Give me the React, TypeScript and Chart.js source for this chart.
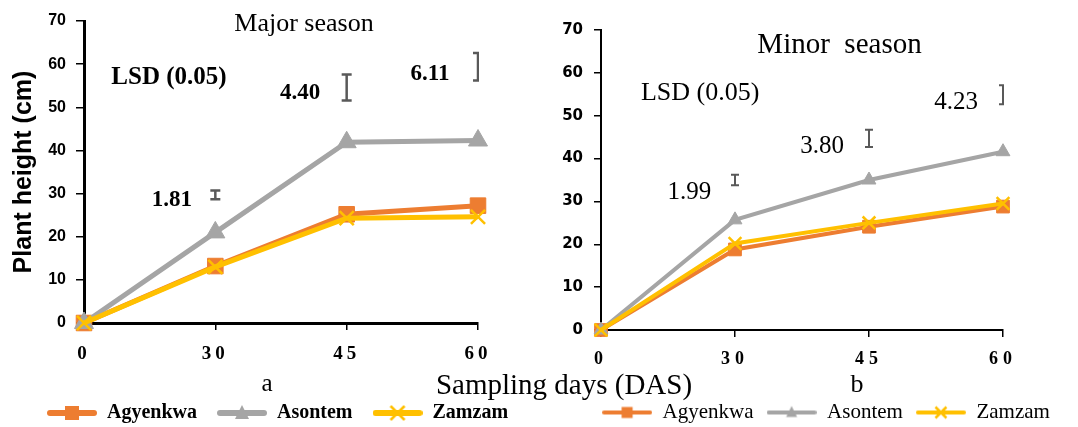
import React, { useEffect, useRef } from 'react';
import { Chart, registerables } from 'chart.js';
Chart.register(...registerables);

// ---------- data ----------
const days = ['0', '30', '45', '60'];
const varieties = ['Agyenkwa', 'Asontem', 'Zamzam'];
const seriesColors = ['#ED7D31', '#A5A5A5', '#FFC000'];

const majorAgyenkwa = [0, 13.2, 25.2, 27.2];
const majorAsontem = [0, 21.0, 41.9, 42.3];
const majorZamzam = [0, 13.0, 24.3, 24.6];

const minorAgyenkwa = [0, 18.8, 24.1, 28.8];
const minorAsontem = [0, 25.7, 35.0, 41.6];
const minorZamzam = [0, 20.2, 25.0, 29.5];

const majorLsdLabels = ['1.81', '4.40', '6.11'];
const majorLsdCenter = [29.7, 54.6, 59.4];
const majorLsdHalf = [1.0, 3.0, 3.2];

const minorLsdLabels = ['1.99', '3.80', '4.23'];
const minorLsdCenter = [35.0, 44.7, 54.9];
const minorLsdHalf = [1.2, 2.0, 2.2];

const yMin = 0;
const yMax = 70;
const yStep = 10;

// ---------- config ----------
type Note = { text: string; x: number; y: number; size: number; weight: string; family: string };

type PanelCfg = {
  left: number;
  width: number;
  height: number;
  series: number[][];
  lsdLabels: string[];
  lsdCenter: number[];
  lsdHalf: number[];
  notes: Note[];
  padTop: number;
  padLeft: number;
  padRight: number;
  padBottom: number;
  yAxisWidth: number;
  rightWidth: number;
  xAxisHeight: number;
  lineWidth: number;
  radii: number[];
  axisWidth: number;
  yTickFont: any;
  yTickPadding: number;
  yTickLength: number;
  xTickFont: any;
  xTickPadding: number;
  xTickSpacing: string;
  yTitle?: { text: string; font: any; padding: number };
  legendFont: any;
  legendPadding: number;
  legendLine: number;
  legendMarker: number;
  lsdCap: number;
  lsdWidth: number;
};

const SERIF = '"Liberation Serif", "Times New Roman", serif';
const SANS = '"Liberation Sans", Arial, sans-serif';

const majorNotes: Note[] = [
  { text: 'Major season', x: 1.675, y: 69.2, size: 26, weight: 'normal', family: SERIF },
  { text: 'LSD (0.05)', x: 0.647, y: 57.0, size: 25, weight: 'bold', family: SERIF },
  { text: majorLsdLabels[0], x: 0.67, y: 28.4, size: 23, weight: 'bold', family: SERIF },
  { text: majorLsdLabels[1], x: 1.645, y: 53.3, size: 23, weight: 'bold', family: SERIF },
  { text: majorLsdLabels[2], x: 2.635, y: 57.7, size: 23, weight: 'bold', family: SERIF },
  { text: 'a', x: 1.394, y: -14.3, size: 25, weight: 'normal', family: SERIF },
];

const minorNotes: Note[] = [
  { text: 'Minor  season', x: 1.78, y: 66.5, size: 29, weight: 'normal', family: SERIF },
  { text: 'LSD (0.05)', x: 0.74, y: 55.3, size: 26, weight: 'normal', family: SERIF },
  { text: minorLsdLabels[0], x: 0.66, y: 32.2, size: 25, weight: 'normal', family: SERIF },
  { text: minorLsdLabels[1], x: 1.65, y: 42.9, size: 25, weight: 'normal', family: SERIF },
  { text: minorLsdLabels[2], x: 2.65, y: 53.2, size: 25, weight: 'normal', family: SERIF },
  { text: 'b', x: 1.91, y: -12.8, size: 26, weight: 'normal', family: SERIF },
];

const majorPanel: PanelCfg = {
  left: 0,
  width: 540,
  height: 427,
  series: [majorAgyenkwa, majorAsontem, majorZamzam],
  lsdLabels: majorLsdLabels,
  lsdCenter: majorLsdCenter,
  lsdHalf: majorLsdHalf,
  notes: majorNotes,
  padTop: 21,
  padLeft: 15,
  padRight: 0,
  padBottom: -6,
  yAxisWidth: 69,
  rightWidth: 62,
  xAxisHeight: 60,
  lineWidth: 5,
  radii: [11, 11, 10],
  axisWidth: 3,
  yTickFont: { family: SANS, size: 16, weight: 'bold' },
  yTickPadding: 10,
  yTickLength: 8,
  xTickFont: { family: SERIF, size: 19, weight: 'bold' },
  xTickPadding: 13,
  xTickSpacing: '4px',
  yTitle: { text: 'Plant height (cm)', font: { family: SANS, size: 25, weight: 'bold', lineHeight: 1 }, padding: -3 },
  legendFont: { family: SERIF, size: 20, weight: 'bold' },
  legendPadding: 20,
  legendLine: 6,
  legendMarker: 14,
  lsdCap: 10,
  lsdWidth: 2.5,
};

const minorPanel: PanelCfg = {
  left: 540,
  width: 538,
  height: 427,
  series: [minorAgyenkwa, minorAsontem, minorZamzam],
  lsdLabels: minorLsdLabels,
  lsdCenter: minorLsdCenter,
  lsdHalf: minorLsdHalf,
  notes: minorNotes,
  padTop: 30,
  padLeft: 0,
  padRight: -34,
  padBottom: -6,
  yAxisWidth: 61,
  rightWidth: 109,
  xAxisHeight: 59,
  lineWidth: 4,
  radii: [9, 8, 9],
  axisWidth: 2,
  yTickFont: { family: '"DejaVu Sans", sans-serif', size: 15, weight: 'bold' },
  yTickPadding: 11,
  yTickLength: 7,
  xTickFont: { family: SERIF, size: 18, weight: 'bold' },
  xTickPadding: 12,
  xTickSpacing: '5px',
  legendFont: { family: SERIF, size: 21, weight: 'normal' },
  legendPadding: 13,
  legendLine: 4,
  legendMarker: 11,
  lsdCap: 8,
  lsdWidth: 2,
};

const pointStyles = ['rect', 'triangle', 'crossRot'];

function makeSample(color: string, marker: string, lineW: number, size: number): HTMLCanvasElement {
  const c = document.createElement('canvas');
  c.width = 50;
  c.height = 20;
  const g = c.getContext('2d')!;
  g.strokeStyle = color;
  g.fillStyle = color;
  g.lineWidth = lineW;
  g.lineCap = 'round';
  g.beginPath();
  g.moveTo(lineW / 2, 10);
  g.lineTo(50 - lineW / 2, 10);
  g.stroke();
  const cx = 25;
  const cy = 10;
  const h = size / 2;
  if (marker === 'rect') {
    g.fillRect(cx - h, cy - h, size, size);
  } else if (marker === 'triangle') {
    g.beginPath();
    g.moveTo(cx, cy - h - 1);
    g.lineTo(cx + h, cy + h - 1);
    g.lineTo(cx - h, cy + h - 1);
    g.closePath();
    g.fill();
  } else {
    g.lineWidth = 2.5;
    g.lineCap = 'butt';
    g.beginPath();
    g.moveTo(cx - h, cy - h);
    g.lineTo(cx + h, cy + h);
    g.moveTo(cx + h, cy - h);
    g.lineTo(cx - h, cy + h);
    g.stroke();
  }
  return c;
}

function buildChart(canvas: HTMLCanvasElement, p: PanelCfg): Chart {
  const samples = varieties.map((_, i) => makeSample(seriesColors[i], pointStyles[i], p.legendLine, p.legendMarker));

  const annotate = {
    id: 'annotate',
    afterDatasetsDraw(chart: any) {
      const ctx = chart.ctx as CanvasRenderingContext2D;
      const xs = chart.scales.x;
      const ys = chart.scales.y;
      const area = chart.chartArea;
      // LSD bars
      ctx.save();
      ctx.beginPath();
      ctx.rect(0, 0, area.right + 1, chart.height);
      ctx.clip();
      ctx.strokeStyle = '#595959';
      ctx.lineWidth = p.lsdWidth;
      p.lsdCenter.forEach((c, i) => {
        const x = xs.getPixelForValue(i + 1);
        const yt = ys.getPixelForValue(c + p.lsdHalf[i]);
        const yb = ys.getPixelForValue(c - p.lsdHalf[i]);
        const hw = p.lsdCap / 2;
        ctx.beginPath();
        ctx.moveTo(x, yt);
        ctx.lineTo(x, yb);
        ctx.moveTo(x - hw, yt);
        ctx.lineTo(x + hw, yt);
        ctx.moveTo(x - hw, yb);
        ctx.lineTo(x + hw, yb);
        ctx.stroke();
      });
      ctx.restore();
      // text notes
      ctx.save();
      ctx.fillStyle = '#000';
      ctx.textAlign = 'center';
      ctx.textBaseline = 'middle';
      p.notes.forEach((n) => {
        ctx.font = `${n.weight} ${n.size}px ${n.family}`;
        ctx.fillText(n.text, xs.getPixelForValue(n.x), ys.getPixelForValue(n.y));
      });
      ctx.restore();
      // spacing for x tick labels drawn next (z = 1)
      (ctx as any).letterSpacing = p.xTickSpacing;
    },
    afterDraw(chart: any) {
      (chart.ctx as any).letterSpacing = '0px';
    },
  };

  return new Chart(canvas, {
    type: 'line',
    data: {
      labels: days,
      datasets: varieties.map((name, i) => ({
        label: name,
        data: p.series[i],
        borderColor: seriesColors[i],
        backgroundColor: seriesColors[i],
        borderWidth: p.lineWidth,
        pointStyle: pointStyles[i] as any,
        pointRadius: p.radii[i],
        pointBackgroundColor: seriesColors[i],
        pointBorderColor: seriesColors[i],
        pointBorderWidth: i === 2 ? 2.5 : 1,
        tension: 0,
        clip: false as any,
        order: 3 - i,
        yAxisID: 'y',
        xAxisID: 'x',
      })),
    },
    options: {
      responsive: false,
      animation: false,
      devicePixelRatio: 1,
      layout: { padding: { top: p.padTop, left: p.padLeft, bottom: p.padBottom, right: p.padRight } },
      plugins: {
        tooltip: { enabled: false },
        title: { display: false },
        legend: {
          display: true,
          position: 'bottom',
          align: 'center',
          labels: {
            usePointStyle: true,
            pointStyleWidth: 50,
            padding: p.legendPadding,
            font: p.legendFont,
            color: '#000',
            generateLabels: () =>
              varieties.map((name, i) => ({
                text: name,
                pointStyle: samples[i] as any,
                fillStyle: 'transparent',
                strokeStyle: 'transparent',
                lineWidth: 0,
                hidden: false,
                datasetIndex: i,
                fontColor: '#000',
              })),
          },
        },
      },
      scales: {
        x: {
          type: 'category',
          offset: false,
          position: 'bottom',
          grid: {
            display: true,
            drawOnChartArea: false,
            drawTicks: true,
            tickLength: 7,
            color: '#000',
            lineWidth: 1.5,
          },
          border: { display: true, color: '#000', width: p.axisWidth },
          ticks: {
            font: p.xTickFont,
            color: '#000',
            padding: p.xTickPadding,
            maxRotation: 0,
            autoSkip: false,
            z: 1,
          },
          afterFit: (s: any) => {
            s.height = p.xAxisHeight;
          },
        },
        y: {
          type: 'linear',
          position: 'left',
          min: yMin,
          max: yMax,
          grid: {
            display: true,
            drawOnChartArea: false,
            drawTicks: true,
            tickLength: p.yTickLength,
            color: '#000',
            lineWidth: 1.5,
          },
          border: { display: true, color: '#000', width: p.axisWidth },
          ticks: {
            stepSize: yStep,
            font: p.yTickFont,
            color: '#000',
            padding: p.yTickPadding,
          },
          title: p.yTitle
            ? {
                display: true,
                text: p.yTitle.text,
                font: p.yTitle.font,
                color: '#000',
                padding: { top: p.yTitle.padding, bottom: 0 },
              }
            : { display: false },
          afterFit: (s: any) => {
            s.width = p.yAxisWidth;
          },
        },
        pad: {
          type: 'linear',
          position: 'right',
          display: true,
          grid: { display: false, drawTicks: false },
          border: { display: false },
          ticks: { display: false },
          afterFit: (s: any) => {
            s.width = p.rightWidth;
          },
        },
      },
    } as any,
    plugins: [annotate],
  });
}

function Panel({ cfg }: { cfg: PanelCfg }) {
  const ref = useRef<HTMLCanvasElement | null>(null);
  useEffect(() => {
    if (!ref.current) return;
    const chart = buildChart(ref.current, cfg);
    return () => chart.destroy();
  }, [cfg]);
  return (
    <canvas
      ref={ref}
      width={cfg.width}
      height={cfg.height}
      style={{ position: 'absolute', left: cfg.left, top: 0, width: cfg.width, height: cfg.height }}
    />
  );
}

export default function App() {
  useEffect(() => {
    document.body.style.margin = '0';
  }, []);
  return (
    <div style={{ position: 'relative', width: 1078, height: 427, overflow: 'hidden', background: '#fff' }}>
      <Panel cfg={majorPanel} />
      <Panel cfg={minorPanel} />
      <div
        style={{
          position: 'absolute',
          left: 364,
          width: 400,
          top: 368,
          textAlign: 'center',
          font: '29px "Liberation Serif", "Times New Roman", serif',
          lineHeight: '32px',
          color: '#000',
          whiteSpace: 'nowrap',
        }}
      >
        Sampling days (DAS)
      </div>
    </div>
  );
}
